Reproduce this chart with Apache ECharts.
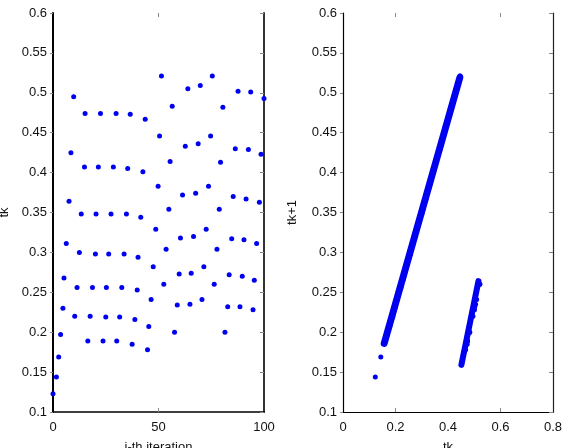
<!DOCTYPE html>
<html>
<head>
<meta charset="utf-8">
<script src="https://cdn.jsdelivr.net/npm/echarts@6/dist/echarts.min.js"></script>
<style>html,body{margin:0;padding:0;background:#fff}#c{width:568px;height:448px}</style>
</head>
<body>
<div id="c"></div>
<script>
// iteration index (x of left panel)
var iteration = [0,1.6,2.7,3.6,4.7,5.2,6.3,7.6,8.5,9.8,10.3,11.4,12.5,13.4,14.9,15.2,16.5,17.6,18.7,20.1,20.4,21.5,22.5,23.7,25,25.3,26.4,27.5,28.6,29.9,30.2,31.6,32.6,33.7,34.8,35.4,36.6,37.5,38.8,39.9,40.3,41.6,42.6,43.7,44.8,45.4,46.5,47.5,48.7,49.8,50.5,51.4,52.5,53.6,54.9,55.5,56.5,57.6,58.9,59.8,60.4,61.4,62.7,63.9,64.9,65.5,66.6,67.6,68.8,69.8,70.6,71.5,72.6,73.7,74.7,75.5,76.4,77.7,78.8,79.4,80.5,81.5,82.8,83.5,84.7,85.4,86.4,87.7,88.6,89.7,90.5,91.5,92.6,93.7,94.8,95.4,96.5,97.8,98.6,100];
// tk values
var tk = [0.123,0.144,0.169,0.197,0.230,0.268,0.311,0.364,0.425,0.495,
  0.220,0.256,0.300,0.348,0.407,0.474,
  0.189,0.220,0.256,0.298,0.348,0.407,0.474,
  0.189,0.219,0.256,0.298,0.348,0.407,0.474,
  0.189,0.219,0.256,0.298,0.348,0.405,0.473,
  0.185,0.216,0.253,0.294,0.344,0.401,0.467,
  0.178,0.207,0.241,0.282,0.329,0.383,0.446,0.521,
  0.260,0.304,0.354,0.414,0.483,
  0.200,0.234,0.273,0.318,0.372,0.433,0.505,
  0.235,0.274,0.320,0.374,0.436,0.509,
  0.241,0.282,0.329,0.383,0.446,0.521,
  0.260,0.304,0.354,0.413,0.482,
  0.200,0.232,0.272,0.317,0.370,0.430,0.502,
  0.232,0.270,0.316,0.367,0.429,0.501,
  0.228,0.265,0.311,0.363,0.423,0.493];
// dense bands of the return map (tk, tk+1), end points
var upperBand = [[0.157,0.186],[0.445,0.519]];
var lowerBand = [[0.451,0.159],[0.516,0.264]];
var xTicksLeft = [50];
var xTicksRight = [0.2, 0.6];

var leftData = iteration.map(function(x,i){return [x, tk[i]];});
var mapData = [];
for (var i = 0; i < tk.length - 1; i++) mapData.push([tk[i], tk[i+1]]);

var FONT = 'Liberation Sans, Arial, sans-serif';
var BLUE = '#0000f0';

function xBottom(gi, min, max, interval, name, lw, ticks){
  return {type:'value', gridIndex:gi, position:'bottom', min:min, max:max, interval:interval,
    name:name, nameLocation:'middle', nameGap:29,
    nameTextStyle:{fontFamily:FONT, fontSize:13, color:'#111'},
    axisLine:{show:true, onZero:false, lineStyle:{color:'#000', width:lw}},
    axisTick:{show:true, inside:true, length:4, customValues:ticks, lineStyle:{color:'#888', width:1}},
    axisLabel:{fontFamily:FONT, fontSize:13, color:'#111', margin:9},
    splitLine:{show:false}};
}
function xTop(gi, min, max, interval, ticks){
  return {type:'value', gridIndex:gi, position:'top', min:min, max:max, interval:interval,
    axisLine:{show:false}, axisLabel:{show:false},
    axisTick:{show:true, inside:true, length:4, customValues:ticks, lineStyle:{color:'#888', width:1}},
    splitLine:{show:false}};
}
function yLeft(gi, name, lw, gap){
  return {type:'value', gridIndex:gi, position:'left', min:0.1, max:0.6, interval:0.05,
    name:name, nameLocation:'middle', nameGap:gap, nameRotate:90,
    nameTextStyle:{fontFamily:FONT, fontSize:13, color:'#111'},
    axisLine:{show:true, onZero:false, lineStyle:{color:'#000', width:lw}},
    axisTick:{show:true, inside:false, length:3, lineStyle:{color:'#888', width:1}},
    axisLabel:{fontFamily:FONT, fontSize:13, color:'#111', margin:6},
    splitLine:{show:false}};
}
function yRight(gi, lw, color){
  return {type:'value', gridIndex:gi, position:'right', min:0.1, max:0.6, interval:0.05,
    axisLine:{show:true, onZero:false, lineStyle:{color:color, width:lw}},
    axisTick:{show:true, inside:true, length:4, lineStyle:{color:'#888', width:1}},
    axisLabel:{show:false}, splitLine:{show:false}};
}

var chart = echarts.init(document.getElementById('c'), null, {renderer:'canvas'});
chart.setOption({
  backgroundColor:'#fff',
  animation:false,
  grid:[
    {left:53, top:13, width:211, height:399, containLabel:false, outerBoundsMode:'none'},
    {left:343, top:13, width:210, height:399, containLabel:false, outerBoundsMode:'none'}
  ],
  xAxis:[
    xBottom(0, 0, 100, 50, 'i-th iteration', 1.5, xTicksLeft),
    xTop(0, 0, 100, 50, xTicksLeft),
    xBottom(1, 0, 0.8, 0.2, 'tk', 1.2, xTicksRight),
    xTop(1, 0, 0.8, 0.2, xTicksRight)
  ],
  yAxis:[
    yLeft(0, 'tk', 2, 42),
    yRight(0, 2, '#333'),
    yLeft(1, 'tk+1', 1.2, 44),
    yRight(1, 1.2, '#222')
  ],
  series:[
    {type:'scatter', xAxisIndex:0, yAxisIndex:0, data:leftData, symbolSize:5,
      itemStyle:{color:BLUE, opacity:1}},
    {type:'line', xAxisIndex:2, yAxisIndex:2, data:upperBand, showSymbol:false, symbol:'none',
      lineStyle:{color:BLUE, width:7, cap:'round', opacity:1}},
    {type:'line', xAxisIndex:2, yAxisIndex:2, data:lowerBand, showSymbol:false, symbol:'none',
      lineStyle:{color:BLUE, width:6, cap:'round', opacity:1}},
    {type:'scatter', xAxisIndex:2, yAxisIndex:2, data:mapData, symbolSize:5,
      itemStyle:{color:BLUE, opacity:1}}
  ]
});
</script>
</body>
</html>
